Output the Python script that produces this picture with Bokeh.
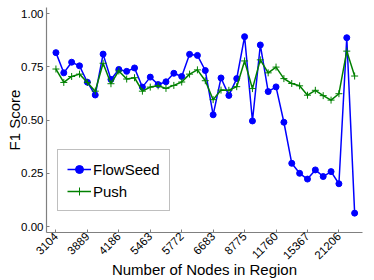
from bokeh.plotting import figure
from bokeh.models import Range1d, FixedTicker, Legend, LegendItem
from bokeh.embed import file_html
from bokeh.resources import INLINE
import math

# ---- data ----
tick_labels = ["3104", "3889", "4186", "5463", "5772", "6683", "8775", "11760", "15367", "21206"]
tick_positions = [0, 4, 8, 12, 16, 20, 24, 28, 32, 36]

flowseed = [0.817, 0.722, 0.772, 0.755, 0.678, 0.618, 0.810, 0.691, 0.738, 0.729,
            0.745, 0.655, 0.702, 0.667, 0.680, 0.720, 0.705, 0.809, 0.804, 0.733,
            0.525, 0.698, 0.616, 0.695, 0.892, 0.496, 0.853, 0.634, 0.656, 0.490,
            0.297, 0.250, 0.223, 0.266, 0.235, 0.258, 0.201, 0.887, 0.063]
push = [0.740, 0.677, 0.705, 0.716, 0.677, 0.636, 0.767, 0.671, 0.731, 0.693,
        0.699, 0.636, 0.655, 0.661, 0.649, 0.663, 0.679, 0.716, 0.736, 0.685,
        0.596, 0.641, 0.640, 0.657, 0.778, 0.648, 0.783, 0.722, 0.749, 0.695,
        0.672, 0.661, 0.617, 0.640, 0.615, 0.594, 0.624, 0.824, 0.707]
x_idx = list(range(len(flowseed)))

y_ticks = [0.0, 0.25, 0.5, 0.75, 1.0]
y_tick_labels = ["0.00", "0.25", "0.50", "0.75", "1.00"]

FONT = "Liberation Sans"
AXIS_COLOR = "#808080"

p = figure(width=374, height=280, output_backend="svg", toolbar_location=None,
           x_range=Range1d(-1.2, 39.0), y_range=Range1d(-0.028, 1.029),
           min_border_left=46, min_border_right=12, min_border_top=7, min_border_bottom=45)
p.outline_line_color = None
p.xgrid.visible = False
p.ygrid.visible = False

l1 = p.line(x_idx, flowseed, line_color="#0000ff", line_width=1.5)
s1 = p.scatter(x_idx, flowseed, marker="circle", size=6, fill_color="#0000ff",
               line_color="#0000ff")
l2 = p.line(x_idx, push, line_color="#008000", line_width=1.5)
s2 = p.scatter(x_idx, push, marker="cross", size=7, line_color="#008000", line_width=1)

# x axis
xa = p.xaxis[0]
xa.ticker = FixedTicker(ticks=tick_positions)
xa.major_label_overrides = {t: lab for t, lab in zip(tick_positions, tick_labels)}
xa.major_label_orientation = math.pi / 4
xa.axis_label = "Number of Nodes in Region"
xa.axis_label_text_font = FONT
xa.axis_label_text_font_size = "15px"
xa.axis_label_text_font_style = "normal"
xa.axis_label_text_color = "black"
xa.axis_label_standoff = -5
xa.major_label_text_font = FONT
xa.major_label_text_font_size = "11.5px"
xa.major_label_text_color = "black"
xa.major_label_standoff = 2
xa.major_tick_in = 3
xa.major_tick_out = 0
xa.minor_tick_line_color = None
xa.axis_line_color = AXIS_COLOR
xa.axis_line_width = 1.2
xa.major_tick_line_color = AXIS_COLOR

# y axis
ya = p.yaxis[0]
ya.ticker = FixedTicker(ticks=y_ticks)
ya.major_label_overrides = {t: lab for t, lab in zip(y_ticks, y_tick_labels)}
ya.axis_label = "F1 Score"
ya.axis_label_text_font = FONT
ya.axis_label_text_font_size = "15px"
ya.axis_label_text_font_style = "normal"
ya.axis_label_text_color = "black"
ya.axis_label_standoff = -5
ya.major_label_text_font = FONT
ya.major_label_text_font_size = "11.5px"
ya.major_label_text_color = "black"
ya.major_label_standoff = 3
ya.major_tick_in = 3
ya.major_tick_out = 0
ya.minor_tick_line_color = None
ya.axis_line_color = AXIS_COLOR
ya.axis_line_width = 1.2
ya.major_tick_line_color = AXIS_COLOR

legend = Legend(items=[LegendItem(label="FlowSeed", renderers=[l1, s1]),
                       LegendItem(label="Push", renderers=[l2, s2])],
                location=(11, 21), orientation="vertical")
legend.label_text_font = FONT
legend.label_text_font_size = "15px"
legend.label_text_color = "black"
legend.glyph_width = 24
legend.glyph_height = 20
legend.label_height = 20
legend.label_standoff = 2
legend.spacing = 2
legend.padding = 9
legend.margin = 0
legend.border_line_color = AXIS_COLOR
legend.border_line_width = 1
legend.background_fill_alpha = 1
p.add_layout(legend, "center")

open("out.html", "w").write(file_html(p, INLINE))
